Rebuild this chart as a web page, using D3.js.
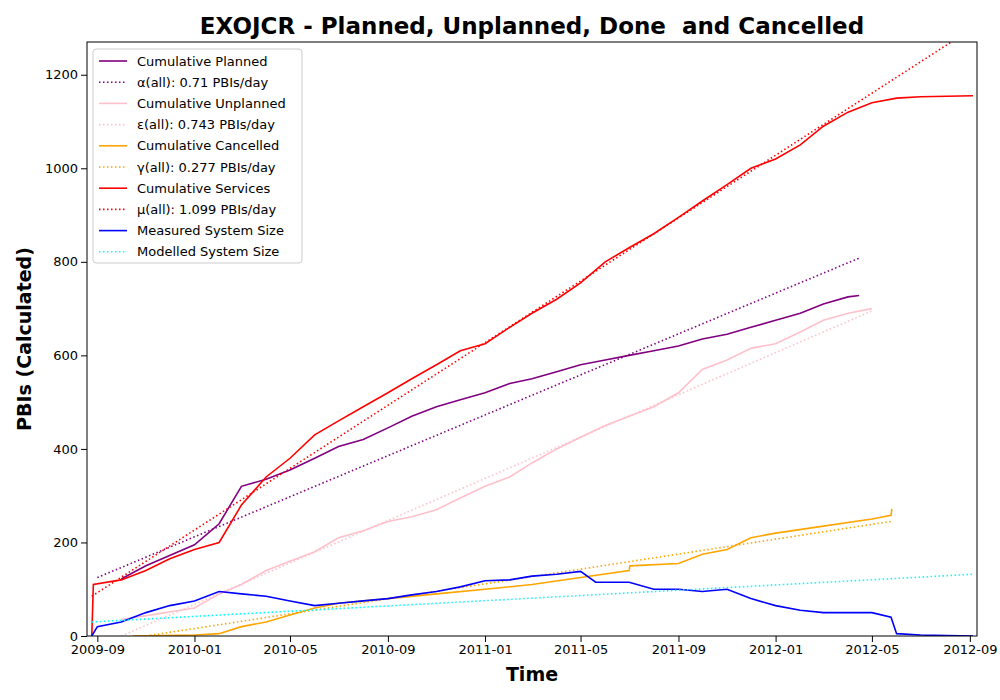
<!DOCTYPE html>
<html><head><meta charset="utf-8">
<script src="https://cdn.jsdelivr.net/npm/d3@7"></script>
<style>body{margin:0;background:#fff;font-family:"DejaVu Sans",sans-serif;}</style>
</head><body><div id="chart"></div>
<script>
const planned = [["2009-10-01",122],["2009-11-01",150],["2010-01-01",195],["2010-02-01",240],["2010-03-01",320],["2010-04-01",335],["2010-05-01",355],["2010-06-01",380],["2010-07-01",405],["2010-08-01",420],["2010-09-01",445],["2010-10-01",470],["2010-11-01",490],["2010-12-01",505],["2011-01-01",520],["2011-02-01",540],["2011-03-01",550],["2011-04-01",565],["2011-05-01",580],["2011-06-01",590],["2011-07-01",600],["2011-08-01",610],["2011-09-01",620],["2011-10-01",635],["2011-11-01",645],["2011-12-01",660],["2012-01-01",675],["2012-02-01",690],["2012-03-01",710],["2012-04-01",725],["2012-04-15",728]];
const plannedFit = [["2009-09-01",125],["2012-04-15",808]];
const unplanned = [["2009-10-01",35],["2010-01-01",60],["2010-02-01",90],["2010-03-01",110],["2010-04-01",140],["2010-05-01",160],["2010-06-01",180],["2010-07-01",210],["2010-08-01",225],["2010-09-01",245],["2010-10-01",255],["2010-11-01",270],["2010-12-01",295],["2011-01-01",320],["2011-02-01",340],["2011-03-01",370],["2011-04-01",400],["2011-05-01",425],["2011-06-01",450],["2011-07-01",470],["2011-08-01",490],["2011-09-01",520],["2011-10-01",570],["2011-11-01",590],["2011-12-01",615],["2012-01-01",625],["2012-02-01",650],["2012-03-01",675],["2012-04-01",690],["2012-05-01",700]];
const unplannedFit = [["2009-10-01",0],["2012-05-01",695]];
const cancelled = [["2009-10-15",0],["2010-01-01",2],["2010-02-01",5],["2010-03-01",20],["2010-04-01",30],["2010-05-01",45],["2010-06-01",60],["2010-07-01",70],["2010-09-01",80],["2010-11-01",90],["2011-01-01",100],["2011-03-01",110],["2011-05-01",125],["2011-07-01",140],["2011-07-02",150],["2011-09-01",155],["2011-10-01",175],["2011-11-01",185],["2011-12-01",210],["2012-01-01",220],["2012-03-01",235],["2012-05-01",250],["2012-05-25",258],["2012-05-26",272]];
const cancelledFit = [["2009-11-01",0],["2012-05-25",245]];
const services = [["2009-08-25",0],["2009-08-27",110],["2009-10-01",120],["2009-11-01",140],["2009-12-01",165],["2010-01-01",185],["2010-02-01",200],["2010-03-01",280],["2010-04-01",340],["2010-05-01",380],["2010-06-01",430],["2010-07-01",460],["2010-08-01",490],["2010-09-01",520],["2010-10-01",550],["2010-11-01",580],["2010-12-01",610],["2011-01-01",625],["2011-02-01",660],["2011-03-01",690],["2011-04-01",720],["2011-05-01",755],["2011-06-01",800],["2011-07-01",830],["2011-08-01",860],["2011-09-01",895],["2011-10-01",930],["2011-11-01",965],["2011-12-01",1000],["2012-01-01",1020],["2012-02-01",1050],["2012-03-01",1090],["2012-04-01",1120],["2012-05-01",1140],["2012-06-01",1150],["2012-07-01",1153],["2012-09-05",1155]];
const servicesFit = [["2009-08-25",85],["2012-09-05",1300]];
const measured = [["2009-08-25",0],["2009-09-01",20],["2009-10-01",30],["2009-11-01",50],["2009-12-01",65],["2010-01-01",75],["2010-02-01",95],["2010-03-01",90],["2010-04-01",85],["2010-05-01",75],["2010-06-01",65],["2010-07-01",70],["2010-08-01",75],["2010-09-01",80],["2010-10-01",88],["2010-11-01",95],["2010-12-01",105],["2011-01-01",118],["2011-02-01",120],["2011-03-01",128],["2011-04-01",132],["2011-05-01",138],["2011-05-20",115],["2011-07-01",115],["2011-08-01",100],["2011-09-01",100],["2011-10-01",95],["2011-11-01",100],["2011-12-01",80],["2012-01-01",65],["2012-02-01",55],["2012-03-01",50],["2012-04-01",50],["2012-05-01",50],["2012-05-25",40],["2012-06-01",5],["2012-07-01",2],["2012-09-05",0]];
const modelled = [["2009-08-25",30],["2012-09-05",132]];
const yTicks = [0,200,400,600,800,1000,1200];
const xTicks = ["2009-09","2010-01","2010-05","2010-09","2011-01","2011-05","2011-09","2012-01","2012-05","2012-09"];

const series = [
  {name:"Cumulative Planned", data:planned, color:"purple", dot:false},
  {name:"α(all): 0.71 PBIs/day", data:plannedFit, color:"purple", dot:true},
  {name:"Cumulative Unplanned", data:unplanned, color:"pink", dot:false},
  {name:"ε(all): 0.743 PBIs/day", data:unplannedFit, color:"pink", dot:true},
  {name:"Cumulative Cancelled", data:cancelled, color:"orange", dot:false},
  {name:"γ(all): 0.277 PBIs/day", data:cancelledFit, color:"orange", dot:true},
  {name:"Cumulative Services", data:services, color:"red", dot:false},
  {name:"μ(all): 1.099 PBIs/day", data:servicesFit, color:"red", dot:true},
  {name:"Measured System Size", data:measured, color:"blue", dot:false},
  {name:"Modelled System Size", data:modelled, color:"cyan", dot:true}
];

const parse = d3.timeParse("%Y-%m-%d");
const m = {left:87, right:23, top:42, bottom:64};
const W = 1000, H = 700;
const svg = d3.select("#chart").append("svg").attr("width",W).attr("height",H);
const x = d3.scaleTime().domain([parse("2009-08-19"), parse("2012-09-10")]).range([m.left, W-m.right]);
const y = d3.scaleLinear().domain([0,1270]).range([H-m.bottom, m.top]);

svg.append("clipPath").attr("id","clip").append("rect")
  .attr("x",m.left).attr("y",m.top).attr("width",W-m.left-m.right).attr("height",H-m.top-m.bottom);

const line = d3.line().x(d => x(parse(d[0]))).y(d => y(d[1]));
const g = svg.append("g").attr("clip-path","url(#clip)");
series.forEach(s => {
  g.append("path").attr("d", line(s.data)).attr("fill","none")
    .attr("stroke", s.color).attr("stroke-width", 1.6)
    .attr("stroke-dasharray", s.dot ? "1.5,2.5" : null);
});

const xa = svg.append("g").attr("transform",`translate(0,${H-m.bottom})`)
  .call(d3.axisBottom(x).tickValues(xTicks.map(d3.timeParse("%Y-%m"))).tickFormat(d3.timeFormat("%Y-%m")).tickSizeOuter(0));
const ya = svg.append("g").attr("transform",`translate(${m.left},0)`)
  .call(d3.axisLeft(y).tickValues(yTicks).tickFormat(d3.format("d")).tickSizeOuter(0));
[xa,ya].forEach(a => { a.selectAll("text").attr("font-size",13).attr("fill","#000").attr("font-family","DejaVu Sans"); a.select(".domain").remove(); a.selectAll("line").attr("stroke","#000"); });

svg.append("rect").attr("x",m.left).attr("y",m.top).attr("width",W-m.left-m.right).attr("height",H-m.top-m.bottom)
  .attr("fill","none").attr("stroke","#000").attr("stroke-width",1);

svg.append("text").attr("x",(m.left+W-m.right)/2).attr("y",34).attr("text-anchor","middle")
  .style("white-space","pre")
  .attr("font-size",23).attr("font-weight","bold").text("EXOJCR - Planned, Unplanned, Done  and Cancelled");
svg.append("text").attr("x",(m.left+W-m.right)/2).attr("y",681).attr("text-anchor","middle")
  .attr("font-size",19).attr("font-weight","bold").text("Time");
svg.append("text").attr("transform",`translate(31,${(m.top+H-m.bottom)/2}) rotate(-90)`).attr("text-anchor","middle")
  .attr("font-size",19).attr("font-weight","bold").text("PBIs (Calculated)");

const lg = svg.append("g").attr("transform","translate(93,49)");
lg.append("rect").attr("width",209).attr("height",214).attr("rx",3).attr("fill","#fff").attr("fill-opacity",0.85).attr("stroke","#ccc");
series.forEach((s,i) => {
  const yy = 12 + i*21.2;
  lg.append("line").attr("x1",6).attr("x2",34).attr("y1",yy).attr("y2",yy)
    .attr("stroke",s.color).attr("stroke-width",1.6).attr("stroke-dasharray", s.dot ? "1.5,2.5" : null);
  lg.append("text").attr("x",44).attr("y",yy+4.5).attr("font-size",13).text(s.name);
});
</script></body></html>
